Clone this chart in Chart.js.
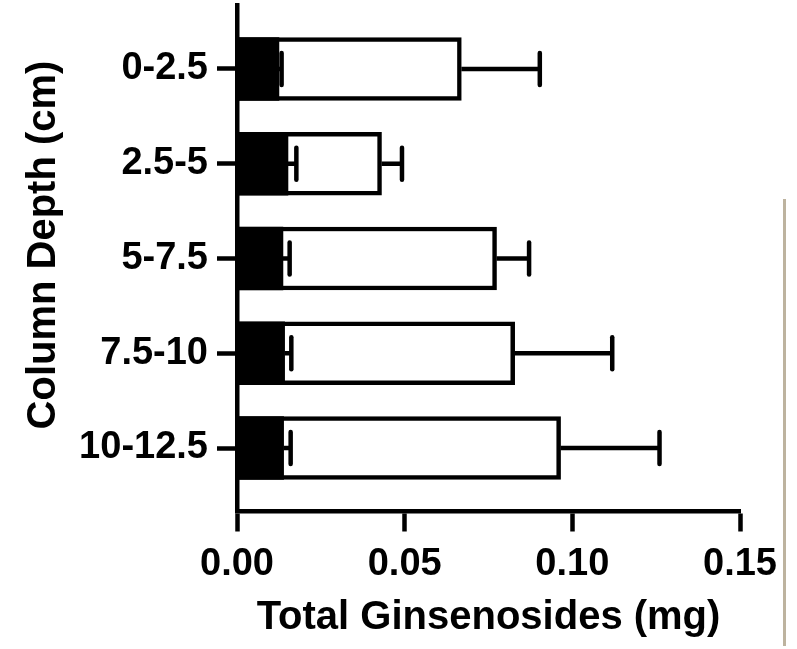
<!DOCTYPE html>
<html>
<head>
<meta charset="utf-8">
<title>Total Ginsenosides by Column Depth</title>
<script src="https://cdn.jsdelivr.net/npm/chart.js@4.4.1/dist/chart.umd.min.js"></script>
<style>
html,body{margin:0;padding:0;background:#fff;}
#wrap{position:relative;width:797px;height:649px;}
#edge{position:absolute;left:783px;top:199px;width:3px;height:447px;background:#bdb39f;}
</style>
</head>
<body>
<div id="wrap">
  <canvas id="chart" width="797" height="649"></canvas>
  <div id="edge"></div>
</div>
<script>
// data
const depths = ["0-2.5", "2.5-5", "5-7.5", "7.5-10", "10-12.5"];
const darkValues  = [0.0125, 0.0152, 0.0137, 0.0142, 0.0139];
const darkErrors  = [0.0008, 0.0025, 0.0020, 0.0020, 0.0021];
const totalValues = [0.0669, 0.0431, 0.0774, 0.0828, 0.0965];
const totalErrors = [0.0234, 0.0061, 0.0097, 0.0291, 0.0295];
const xTicks = [0, 0.05, 0.10, 0.15];
const xTitle = "Total Ginsenosides (mg)";
const yTitle = "Column Depth (cm)";

const FONT = "Arial, 'Liberation Sans', sans-serif";
const LW = 4.5;

// ---------------------
// error bars (one-sided, to the right)
// ---------------------
const errorBars = {
  id: "errorBars",
  afterDatasetsDraw(chart) {
    const ctx = chart.ctx, xs = chart.scales.x, ys = chart.scales.y;
    ctx.save();
    ctx.strokeStyle = "#000";
    ctx.lineWidth = LW;
    chart.data.datasets.forEach(ds => {
      ds.data.forEach((p, i) => {
        const x1 = xs.getPixelForValue(p.x);
        const x2 = xs.getPixelForValue(p.x + ds.errors[i]);
        const y = ys.getPixelForValue(p.y);
        ctx.beginPath();
        ctx.lineCap = "butt";
        ctx.moveTo(x1, y); ctx.lineTo(x2, y);
        ctx.stroke();
        ctx.beginPath();
        ctx.lineCap = "round";
        ctx.moveTo(x2, y - 16); ctx.lineTo(x2, y + 16);
        ctx.stroke();
      });
    });
    ctx.restore();
  }
};

// ---------------------
// rotated y title
// ---------------------
const yTitlePlugin = {
  id: "yTitle",
  afterDraw(chart) {
    const ctx = chart.ctx;
    ctx.save();
    ctx.translate(44, 245);
    ctx.rotate(-Math.PI / 2);
    ctx.font = "bold 40px " + FONT;
    ctx.fillStyle = "#000";
    ctx.textAlign = "center";
    ctx.textBaseline = "middle";
    ctx.fillText(yTitle, 0, 0);
    ctx.restore();
  }
};

new Chart(document.getElementById("chart"), {
  type: "bar",
  data: {
    datasets: [
      {
        data: darkValues.map((v, i) => ({x: v, y: i})),
        errors: darkErrors,
        backgroundColor: "#000",
        borderWidth: 0,
        barThickness: 63,
        grouped: false
      },
      {
        data: totalValues.map((v, i) => ({x: v, y: i})),
        errors: totalErrors,
        backgroundColor: "#fff",
        borderColor: "#000",
        borderWidth: LW,
        borderSkipped: false,
        barThickness: 63,
        grouped: false
      }
    ]
  },
  options: {
    responsive: false,
    animation: false,
    indexAxis: "y",
    layout: {padding: {top: 5, right: 57, left: 0, bottom: 0}},
    plugins: {legend: {display: false}, tooltip: {enabled: false}},
    scales: {
      x: {
        type: "linear",
        min: 0, max: 0.15,
        afterBuildTicks: s => { s.ticks = xTicks.map(v => ({value: v})); },
        afterFit: s => { s.height = 137.5; },
        border: {display: true, color: "#000", width: LW},
        grid: {display: true, drawOnChartArea: false, drawTicks: true, tickLength: 20, tickWidth: LW, tickColor: "#000"},
        ticks: {color: "#000", padding: 10, maxRotation: 0, font: {family: FONT, size: 38, weight: "bold"},
                callback: v => Number(v).toFixed(2)},
        title: {display: true, text: xTitle, color: "#000", padding: {top: 0, bottom: 7},
                font: {family: FONT, size: 40, weight: "bold"}}
      },
      y: {
        type: "linear",
        reverse: true,
        offset: false,
        min: -0.675, max: 4.67,
        afterBuildTicks: s => { s.ticks = depths.map((d, i) => ({value: i})); },
        afterFit: s => { s.width = 237; s.paddingTop = 0; s.paddingBottom = 0; },
        border: {display: true, color: "#000", width: LW},
        grid: {display: true, offset: false, drawOnChartArea: false, drawTicks: true, tickLength: 20, tickWidth: LW, tickColor: "#000"},
        ticks: {color: "#000", padding: 9, font: {family: FONT, size: 38, weight: "bold"},
                callback: v => depths[v]}
      }
    }
  },
  plugins: [errorBars, yTitlePlugin]
});
</script>
</body>
</html>
